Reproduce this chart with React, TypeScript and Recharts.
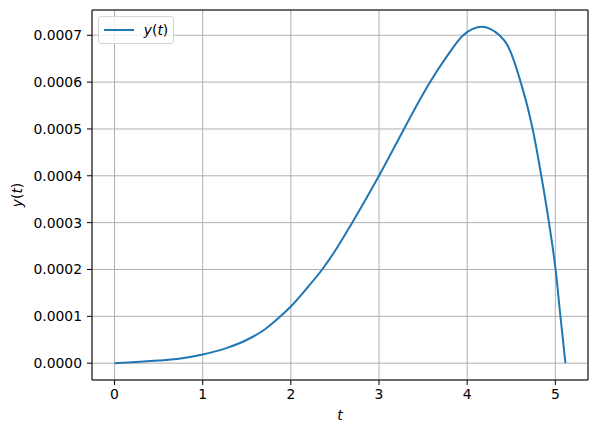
import { LineChart, Line, XAxis, YAxis, CartesianGrid, Legend } from "recharts";

// t samples and y(t)
const T_VALUES = [
  0, 0.5, 0.746, 1, 1.276, 1.503, 1.711, 1.882, 2, 2.186, 2.355, 2.526, 2.696, 3, 3.284, 3.433, 3.566,
  3.774, 3.955, 4.172, 4.266, 4.36, 4.456, 4.53, 4.607, 4.697, 4.743, 4.841, 4.928, 5.003, 5.058, 5.115,
];
const Y_VALUES = [
  0, 0.0000057, 0.00001, 0.0000186, 0.0000327, 0.00005, 0.000073, 0.0001, 0.000121, 0.000161, 0.0002,
  0.000247, 0.0003, 0.0004, 0.0005, 0.000552, 0.000596, 0.000656, 0.0007, 0.000718, 0.000713, 0.000701,
  0.000679, 0.000646, 0.0006, 0.000538, 0.0005, 0.0004, 0.0003, 0.0002, 0.0001, 0,
];
const X_TICKS = [0, 1, 2, 3, 4, 5];
const Y_TICKS = [0, 0.0001, 0.0002, 0.0003, 0.0004, 0.0005, 0.0006, 0.0007];

const FONT = "'DejaVu Sans', sans-serif";
const FS = 13.9;
const BLUE = "#1f77b4";

const data = T_VALUES.map((t, i) => ({ t, y: Y_VALUES[i] }));

// matplotlib-style 5% margins around the data
const pad = (lo: number, hi: number): [number, number] => [lo - 0.05 * (hi - lo), hi + 0.05 * (hi - lo)];
const xDomain = pad(Math.min(...T_VALUES), Math.max(...T_VALUES));
const yDomain = pad(Math.min(...Y_VALUES), Math.max(...Y_VALUES));

function MathLabel({ x, y, rotate }: { x: number; y: number; rotate?: boolean }) {
  return (
    <text
      x={x}
      y={y}
      textAnchor="middle"
      fontFamily={FONT}
      fontSize={FS}
      fill="#000"
      transform={rotate ? `rotate(-90 ${x} ${y})` : undefined}
    >
      <tspan fontStyle="italic">y</tspan>
      <tspan>(</tspan>
      <tspan fontStyle="italic">t</tspan>
      <tspan>)</tspan>
    </text>
  );
}

function LegendBox() {
  return (
    <div
      style={{
        width: 74,
        height: 26,
        border: "1px solid #d6d6d6",
        borderRadius: 3,
        background: "rgba(255,255,255,0.8)",
        position: "relative",
        fontFamily: FONT,
      }}
    >
      <svg width={74} height={26} style={{ position: "absolute", left: 0, top: 0 }}>
        <line x1={5} x2={35} y1={13} y2={13} stroke={BLUE} strokeWidth={2} />
        <MathLabel x={57} y={18} />
      </svg>
    </div>
  );
}

export default function App() {
  return (
    <div style={{ position: "absolute", left: 0, top: 0, background: "#fff" }}>
      <LineChart width={597} height={432} data={data} margin={{ top: 9, right: 8, bottom: 0, left: 0 }}>
        <CartesianGrid stroke="#b0b0b0" strokeWidth={1} />
        <XAxis
          dataKey="t"
          type="number"
          domain={xDomain}
          ticks={X_TICKS}
          allowDataOverflow
          height={52}
          stroke="#000"
          tickSize={5}
          tickMargin={4}
          tick={{ fill: "#000", fontSize: FS, fontFamily: FONT }}
          label={(p: any) => (
            <text
              x={p.viewBox.x + p.viewBox.width / 2}
              y={420}
              textAnchor="middle"
              fontFamily={FONT}
              fontSize={FS}
              fontStyle="italic"
              fill="#000"
            >
              t
            </text>
          )}
        />
        <XAxis xAxisId="top" orientation="top" type="number" domain={xDomain} tick={false} tickLine={false} height={1} stroke="#000" allowDataOverflow />
        <YAxis
          type="number"
          domain={yDomain}
          ticks={Y_TICKS}
          allowDataOverflow
          width={92}
          stroke="#000"
          tickSize={5}
          tickMargin={5}
          tickFormatter={(v: number) => v.toFixed(4)}
          tick={{ fill: "#000", fontSize: FS, fontFamily: FONT }}
          label={(p: any) => <MathLabel x={22} y={p.viewBox.y + p.viewBox.height / 2} rotate />}
        />
        <YAxis yAxisId="right" orientation="right" type="number" domain={yDomain} tick={false} tickLine={false} width={1} stroke="#000" allowDataOverflow />
        <Legend
          layout="vertical"
          align="center"
          verticalAlign="middle"
          wrapperStyle={{ left: 98, top: 16, width: "auto" }}
          content={() => <LegendBox />}
        />
        <Line type="monotone" dataKey="y" name="y(t)" stroke={BLUE} strokeWidth={2} dot={false} isAnimationActive={false} />
      </LineChart>
    </div>
  );
}
